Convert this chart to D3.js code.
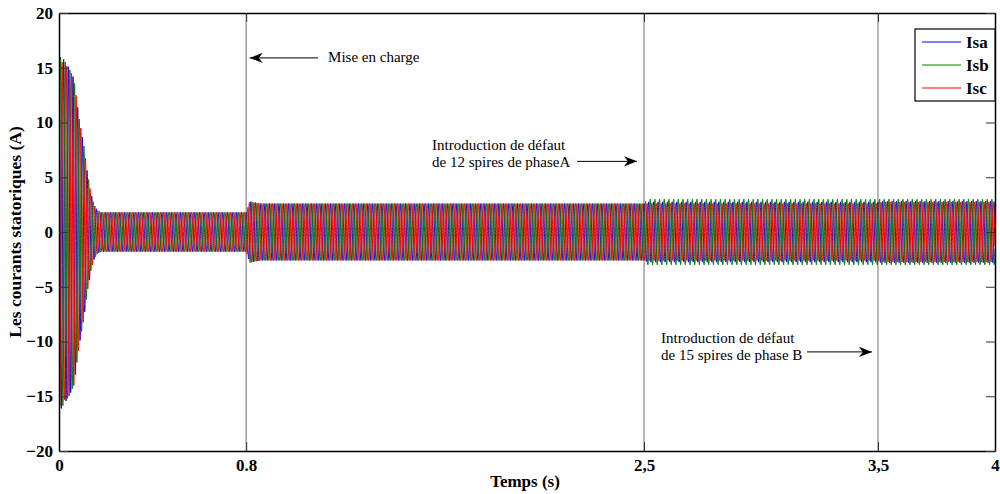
<!DOCTYPE html>
<html>
<head>
<meta charset="utf-8">
<script src="https://cdn.jsdelivr.net/npm/d3@7"></script>
<style>
  body { margin: 0; background: #fff; }
  svg text { font-family: "Liberation Serif", "Times New Roman", serif; }
</style>
</head>
<body>
<svg id="chart"></svg>
<script>
// Enveloppe (crête) des courants, en A, aux instants envTime (s)
const envTime = [0, 0.013, 0.043, 0.064, 0.086, 0.107, 0.12, 0.137, 0.15, 0.163, 0.18, 0.8, 0.815, 0.835, 0.86, 2.5, 2.515, 3.5, 3.515, 4];
const ampIsa  = [16.5, 16, 15, 14, 10.4, 7.8, 5.6, 3.5, 2.5, 2.0, 1.8, 1.8, 2.8, 2.7, 2.6, 2.6, 2.75, 2.75, 2.8, 2.8];
const ampIsb  = [16, 16, 15, 14, 10.4, 7.8, 5.6, 3.5, 2.5, 2.0, 1.8, 1.8, 2.8, 2.7, 2.6, 2.6, 3.0, 3.0, 3.0, 3.0];
const ampIsc  = [16, 15.5, 15, 14, 10.4, 7.8, 5.6, 3.5, 2.5, 2.0, 1.8, 1.8, 2.8, 2.7, 2.6, 2.6, 2.6, 2.6, 2.75, 2.75];
const freq = 50;           // Hz
const dt = 0.0004;         // pas d'échantillonnage

const seriesNames = ["Isa", "Isb", "Isc"];
const seriesAmps = [ampIsa, ampIsb, ampIsc];
const seriesPhase = [0, -2 * Math.PI / 3, 2 * Math.PI / 3];
const colors = ["#0000ff", "#008000", "#ff0000"];

const xTicks = [0, 0.8, 2.5, 3.5, 4];
const xTickLabels = ["0", "0.8", "2,5", "3,5", "4"];
const yTicks = [-20, -15, -10, -5, 0, 5, 10, 15, 20];
const eventTimes = [0.8, 2.5, 3.5];

// Dimensions
const W = 1000, H = 494;
const margin = { top: 13, right: 5, bottom: 43, left: 59 };
const width = W - margin.left - margin.right;
const height = H - margin.top - margin.bottom;

const svg = d3.select("#chart").attr("width", W).attr("height", H);
const g = svg.append("g").attr("transform", `translate(${margin.left},${margin.top})`);

const x = d3.scaleLinear().domain([0, 4]).range([0, width]);
const y = d3.scaleLinear().domain([-20, 20]).range([height, 0]);

g.append("clipPath").attr("id", "clip")
  .append("rect").attr("width", width).attr("height", height);

// Lignes verticales des événements
g.selectAll(".evt").data(eventTimes).enter().append("line")
  .attr("x1", d => x(d)).attr("x2", d => x(d))
  .attr("y1", 0).attr("y2", height)
  .attr("stroke", "#999").attr("stroke-width", 1.4);

// Courants : sinusoïde 50 Hz modulée par l'enveloppe lue
const times = d3.range(0, 4 + dt / 2, dt);
const line = d3.line().x(d => x(d[0])).y(d => y(d[1]));
seriesNames.forEach((name, i) => {
  const env = d3.scaleLinear().domain(envTime).range(seriesAmps[i]).clamp(true);
  const pts = times.map(t => [t, env(t) * Math.sin(2 * Math.PI * freq * t + Math.PI / 2 + seriesPhase[i])]);
  g.append("path")
    .datum(pts)
    .attr("clip-path", "url(#clip)")
    .attr("fill", "none")
    .attr("stroke", colors[i])
    .attr("stroke-width", 1)
    .attr("d", line);
});

// Axes (boîte avec graduations intérieures)
const tickLen = 9;
const axisB = g.append("g").attr("transform", `translate(0,${height})`)
  .call(d3.axisBottom(x).tickValues(xTicks).tickSizeInner(-tickLen).tickSizeOuter(0).tickPadding(6)
    .tickFormat((d, i) => xTickLabels[i]));
const axisT = g.append("g")
  .call(d3.axisTop(x).tickValues(xTicks).tickSizeInner(-tickLen).tickSizeOuter(0).tickFormat(""));
const axisL = g.append("g")
  .call(d3.axisLeft(y).tickValues(yTicks).tickSizeInner(-tickLen).tickSizeOuter(0).tickPadding(6));
const axisR = g.append("g").attr("transform", `translate(${width},0)`)
  .call(d3.axisRight(y).tickValues(yTicks).tickSizeInner(-tickLen).tickSizeOuter(0).tickFormat(""));

[axisB, axisT, axisL, axisR].forEach(a => {
  a.select(".domain").attr("stroke", "#000").attr("stroke-width", 1.5);
  a.selectAll(".tick line").attr("stroke", "#333").attr("stroke-width", 1);
  a.selectAll("text").attr("font-size", 17).attr("font-weight", "bold").attr("fill", "#000");
});
axisB.selectAll("text").attr("dy", "0.8em");

// Titres des axes
svg.append("text")
  .attr("x", margin.left + width / 2 - 2).attr("y", 487)
  .attr("text-anchor", "middle").attr("font-size", 17).attr("font-weight", "bold")
  .text("Temps (s)");
svg.append("text")
  .attr("transform", `translate(21,${margin.top + height / 2}) rotate(-90)`)
  .attr("text-anchor", "middle").attr("font-size", 17.5).attr("font-weight", "bold")
  .text("Les courants statoriques (A)");

// Flèches d'annotation
svg.append("defs").append("marker")
  .attr("id", "arrow").attr("viewBox", "0 0 10 10")
  .attr("refX", 10).attr("refY", 5)
  .attr("markerWidth", 13).attr("markerHeight", 13)
  .attr("markerUnits", "userSpaceOnUse")
  .attr("orient", "auto")
  .append("path").attr("d", "M0,1 L10,5 L0,9 L3,5 Z").attr("fill", "#000");

const notes = [
  { lines: ["Mise en charge"], t: 1.15, v: 16.0, from: [1.107, 15.9], to: [0.815, 15.9] },
  { lines: ["Introduction de défaut", "de 12 spires de phaseA"], t: 1.594, v: 7.95, from: [2.214, 6.45], to: [2.47, 6.45] },
  { lines: ["Introduction de défaut", "de 15 spires de phase B"], t: 2.573, v: -9.7, from: [3.197, -10.95], to: [3.474, -10.95] }
];
notes.forEach(n => {
  n.lines.forEach((s, k) => {
    g.append("text")
      .attr("x", x(n.t)).attr("y", y(n.v) + k * 17)
      .attr("dy", "0.35em")
      .attr("font-size", 15)
      .text(s);
  });
  g.append("line")
    .attr("x1", x(n.from[0])).attr("y1", y(n.from[1]))
    .attr("x2", x(n.to[0])).attr("y2", y(n.to[1]))
    .attr("stroke", "#000").attr("stroke-width", 1)
    .attr("marker-end", "url(#arrow)");
});

// Légende
const leg = svg.append("g").attr("transform", "translate(915,29)");
leg.append("rect").attr("width", 80).attr("height", 72)
  .attr("fill", "#fff").attr("stroke", "#000").attr("stroke-width", 1.2);
seriesNames.forEach((name, i) => {
  const yy = 13 + i * 23;
  leg.append("line").attr("x1", 7).attr("x2", 46).attr("y1", yy).attr("y2", yy)
    .attr("stroke", colors[i]).attr("stroke-width", 1);
  leg.append("text").attr("x", 51).attr("y", yy).attr("dy", "0.35em")
    .attr("font-size", 17).attr("font-weight", "bold").text(name);
});
</script>
</body>
</html>
